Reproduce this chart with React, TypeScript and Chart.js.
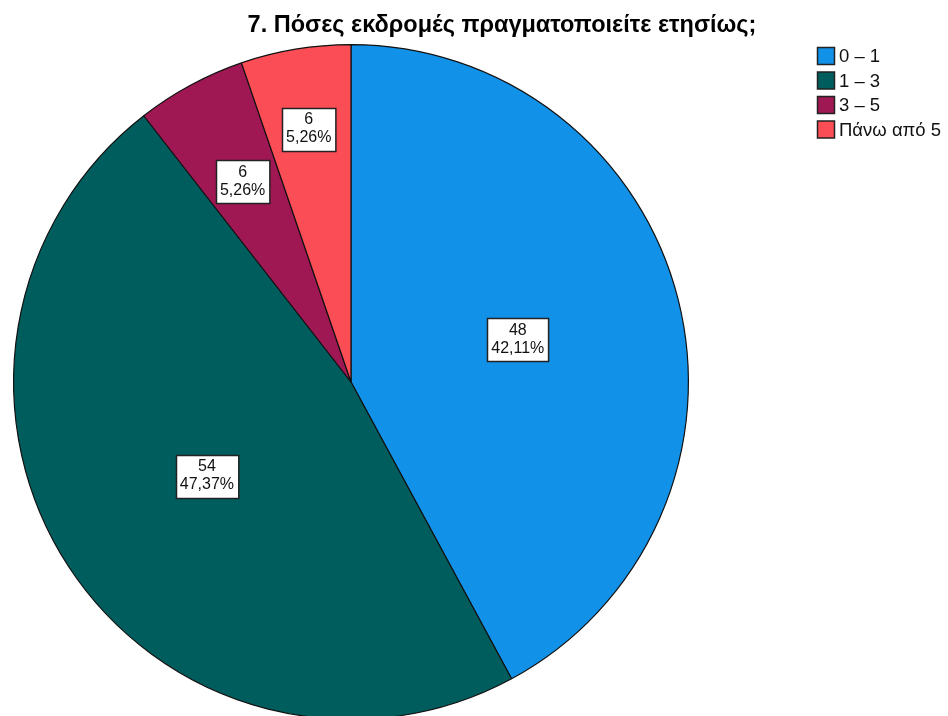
import React, { useEffect, useRef } from "react";
import { Chart, registerables } from "chart.js";

Chart.register(...registerables);

const TITLE = "7. Πόσες εκδρομές πραγματοποιείτε ετησίως;";
const categories = ["0 – 1", "1 – 3", "3 – 5", "Πάνω από 5"];
const counts = [48, 54, 6, 6];
const percentLabels = ["42,11%", "47,37%", "5,26%", "5,26%"];

const COLORS = ["#1192E8", "#005D5D", "#9F1853", "#FA4D56"];
// radial position of each value label, as a fraction of the radius (style only)
const LABEL_RADIUS = [0.51, 0.51, 0.675, 0.76];

const FONT = "'Liberation Sans', Arial, sans-serif";

const overlayPlugin = {
  id: "overlay",
  afterDraw(chart: any) {
    const ctx = chart.ctx as CanvasRenderingContext2D;
    ctx.save();
    // title
    ctx.fillStyle = "#000";
    ctx.font = `bold 23.5px ${FONT}`;
    ctx.textAlign = "center";
    ctx.textBaseline = "alphabetic";
    ctx.fillText(TITLE, 502, 32);

    // legend
    const labels = chart.data.labels as string[];
    const bg = chart.data.datasets[0].backgroundColor as string[];
    ctx.font = `18.5px ${FONT}`;
    ctx.textAlign = "left";
    ctx.textBaseline = "middle";
    labels.forEach((lab, i) => {
      const y = 47 + i * 24.5;
      ctx.fillStyle = bg[i];
      ctx.fillRect(817.5, y + 0.5, 17, 17);
      ctx.strokeStyle = "#222";
      ctx.lineWidth = 1.5;
      ctx.strokeRect(817.5, y + 0.5, 17, 17);
      ctx.fillStyle = "#111";
      ctx.fillText(lab, 839, y + 10);
    });

    // value labels
    const meta = chart.getDatasetMeta(0);
    ctx.font = `16px ${FONT}`;
    ctx.textAlign = "center";
    meta.data.forEach((arc: any, i: number) => {
      const { x, y, startAngle, endAngle, outerRadius } = arc.getProps(
        ["x", "y", "startAngle", "endAngle", "outerRadius"],
        true
      );
      const mid = (startAngle + endAngle) / 2;
      const r = outerRadius * LABEL_RADIUS[i];
      const cx = x + Math.cos(mid) * r;
      const cy = y + Math.sin(mid) * r;
      const l1 = String(chart.data.datasets[0].data[i]);
      const l2 = percentLabels[i];
      const w = Math.max(ctx.measureText(l1).width, ctx.measureText(l2).width) + 8;
      const h = 43;
      const bx = Math.round(cx - w / 2) + 0.5;
      const by = Math.round(cy - h / 2) + 0.5;
      ctx.fillStyle = "#fff";
      ctx.fillRect(bx, by, w, h);
      ctx.strokeStyle = "#222";
      ctx.lineWidth = 1.5;
      ctx.strokeRect(bx, by, w, h);
      ctx.fillStyle = "#111";
      ctx.textBaseline = "middle";
      ctx.fillText(l1, cx, cy - 9.5);
      ctx.fillText(l2, cx, cy + 8.5);
    });
    ctx.restore();
  },
};

export default function App() {
  const ref = useRef<HTMLCanvasElement | null>(null);
  useEffect(() => {
    if (!ref.current) return;
    const chart = new Chart(ref.current, {
      type: "pie",
      data: {
        labels: categories,
        datasets: [
          {
            data: counts,
            backgroundColor: COLORS,
            borderColor: "#111",
            borderWidth: 1.2,
          },
        ],
      },
      options: {
        responsive: false,
        animation: false,
        devicePixelRatio: 1,
        layout: { padding: { left: 13, top: 44, right: 259, bottom: 40 } },
        plugins: {
          legend: { display: false },
          title: { display: false },
          tooltip: { enabled: false },
        },
      },
      plugins: [overlayPlugin],
    });
    return () => chart.destroy();
  }, []);
  return (
    <div
      style={{
        position: "fixed",
        left: 0,
        top: 0,
        width: 948,
        height: 716,
        overflow: "hidden",
        background: "#fff",
      }}
    >
      <canvas ref={ref} width={948} height={760} style={{ display: "block" }} />
    </div>
  );
}
